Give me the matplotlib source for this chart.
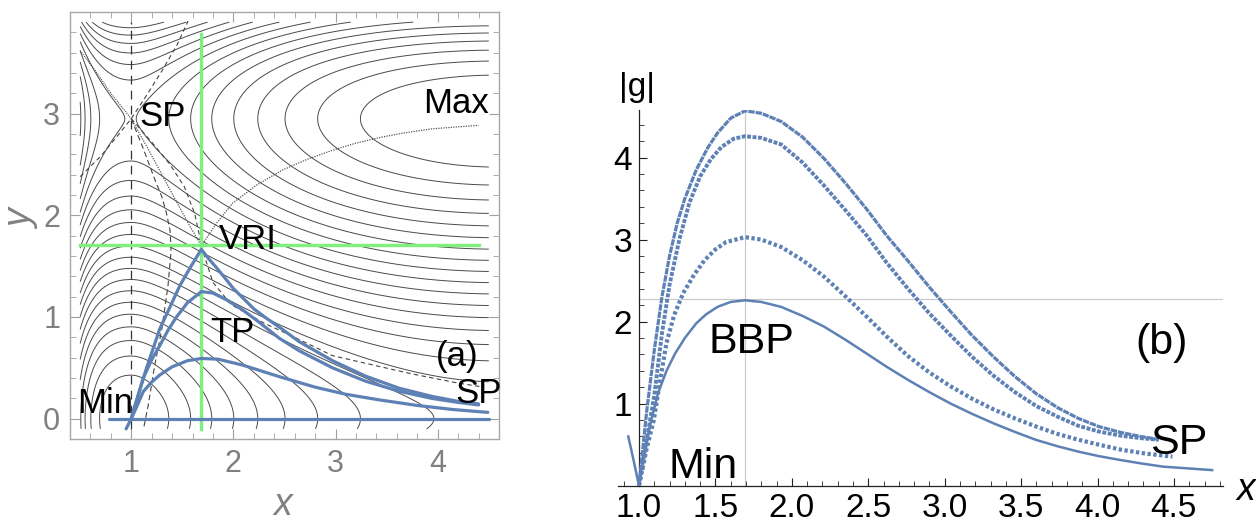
import numpy as np
import matplotlib.pyplot as plt
from matplotlib.ticker import MultipleLocator, FixedLocator, FormatStrFormatter

plt.rcParams['font.family'] = ['Liberation Sans', 'DejaVu Sans']

BLUE = '#5e81b5'
GREEN = '#7ef07e'
GRAY = '#808080'
CONT = '#4a4a4a'

# ---------------- panel (a): curves ----------------
# curve through the VRI point (cusp)
vri_x = [0.95, 1.0, 1.04, 1.15, 1.28, 1.38, 1.475, 1.58, 1.686, 1.76, 1.83, 1.92, 2.0, 2.09,
         2.2, 2.32, 2.45, 2.64, 2.97, 3.29, 3.62, 3.94, 4.2, 4.4]
vri_y = [-0.10, 0.0, 0.14, 0.50, 0.885, 1.10, 1.307, 1.49, 1.665, 1.57, 1.49, 1.38, 1.28, 1.19,
         1.08, 0.99, 0.90, 0.76, 0.57, 0.42, 0.30, 0.22, 0.17, 0.145]
# middle curve (turning point TP at x ~ 1.7)
tp_x = [1.0, 1.05, 1.118, 1.2, 1.28, 1.36, 1.443, 1.55, 1.686, 1.8, 1.93, 2.09, 2.25, 2.45,
        2.64, 2.97, 3.29, 3.62, 3.94, 4.2, 4.4]
tp_y = [0.0, 0.17, 0.40, 0.58, 0.72, 0.87, 1.0, 1.14, 1.25, 1.235, 1.17, 1.07, 0.95, 0.79,
        0.67, 0.50, 0.37, 0.27, 0.20, 0.16, 0.135]
# low curve
low_x = [1.0, 1.05, 1.118, 1.2, 1.28, 1.4, 1.55, 1.686, 1.85, 2.09, 2.45, 2.8, 3.1, 3.42,
         3.8, 4.15, 4.49]
low_y = [0.0, 0.11, 0.267, 0.36, 0.43, 0.51, 0.57, 0.592, 0.585, 0.527, 0.413, 0.31, 0.24,
         0.186, 0.13, 0.09, 0.062]
# valley floor
floor_x = [0.78, 4.5]
floor_y = [0.0, 0.0]

# black auxiliary lines
ridge_x = [1.686, 1.84, 1.994, 2.23, 2.48, 2.72, 2.97, 3.2, 3.455, 3.7, 3.94, 4.2, 4.4]
ridge_y = [1.70, 1.93, 2.12, 2.30, 2.445, 2.55, 2.64, 2.71, 2.77, 2.815, 2.85, 2.87, 2.885]
sp_vri_x = [1.0, 1.15, 1.3, 1.45, 1.57, 1.686]
sp_vri_y = [2.95, 2.68, 2.40, 2.12, 1.90, 1.70]
ge_left_x = [1.0, 1.12, 1.22, 1.30, 1.345, 1.38, 1.39, 1.36, 1.30, 1.23, 1.167, 1.12]
ge_left_y = [2.95, 2.65, 2.38, 2.18, 2.02, 1.85, 1.65, 1.31, 0.885, 0.527, 0.137, -0.1]
ge_right_x = [1.0, 1.2, 1.38, 1.52, 1.62, 1.70, 1.80, 1.98, 2.3, 2.6, 2.97, 3.4, 3.75, 4.2, 4.45]
ge_right_y = [2.95, 2.72, 2.50, 2.28, 2.02, 1.65, 1.34, 1.12, 0.94, 0.80, 0.62, 0.52, 0.44, 0.35, 0.31]
ge_up_x = [0.5, 0.7, 0.88, 1.0, 1.15, 1.3, 1.45, 1.556]
ge_up_y = [2.38, 2.58, 2.80, 2.95, 3.18, 3.42, 3.68, 3.91]
sep_x = [0.5, 0.65, 0.8, 1.0]
sep_y = [3.62, 3.42, 3.2, 2.95]

# green cross at the VRI point
vri_px, vri_py = 1.686, 1.707

# model surface used for the contour background (min, two saddles, max)
x_max_pot = 4.6
y_saddle = 2.95
q_scale = 0.61
levels = 0.145 * np.arange(1, 27) + 0.004

# ---------------- panel (b): |g| along the curves ----------------
g1_x = [1.0, 1.05, 1.1, 1.15, 1.2, 1.25, 1.3, 1.375, 1.45, 1.514, 1.6, 1.694, 1.8, 1.93, 2.07,
        2.21, 2.35, 2.49, 2.62, 2.76, 2.9, 3.04, 3.18, 3.32, 3.46, 3.6, 3.74, 3.875, 4.01, 4.15,
        4.28, 4.40]
g1_y = [0.0, 0.9, 1.65, 2.3, 2.8, 3.2, 3.5, 3.85, 4.12, 4.3, 4.48, 4.57, 4.54, 4.44, 4.25,
        3.99, 3.69, 3.37, 3.05, 2.74, 2.42, 2.12, 1.83, 1.57, 1.33, 1.12, 0.95, 0.82, 0.72, 0.65,
        0.60, 0.565]
g2_x = [1.0, 1.05, 1.1, 1.15, 1.2, 1.264, 1.33, 1.40, 1.47, 1.54, 1.62, 1.694, 1.8, 1.93, 2.07,
        2.21, 2.35, 2.49, 2.62, 2.76, 2.9, 3.04, 3.18, 3.32, 3.46, 3.6, 3.74, 3.875, 4.01, 4.15,
        4.28, 4.40]
g2_y = [0.0, 0.55, 1.1, 1.85, 2.45, 3.0, 3.45, 3.77, 3.98, 4.13, 4.23, 4.26, 4.24, 4.16, 3.94,
        3.66, 3.36, 3.05, 2.72, 2.40, 2.10, 1.83, 1.57, 1.34, 1.14, 0.97, 0.84, 0.73, 0.66, 0.61,
        0.58, 0.56]
g3_x = [1.0, 1.05, 1.097, 1.14, 1.18, 1.23, 1.29, 1.36, 1.43, 1.5, 1.57, 1.694, 1.8, 1.93, 2.07,
        2.21, 2.35, 2.49, 2.62, 2.76, 2.9, 3.04, 3.18, 3.32, 3.46, 3.6, 3.74, 3.875, 4.01, 4.15,
        4.32, 4.49]
g3_y = [0.0, 0.45, 0.80, 1.3, 1.74, 2.08, 2.35, 2.57, 2.75, 2.88, 2.97, 3.03, 3.0, 2.91, 2.75,
        2.55, 2.31, 2.06, 1.82, 1.58, 1.38, 1.21, 1.06, 0.93, 0.82, 0.72, 0.63, 0.56, 0.50, 0.44,
        0.39, 0.355]
g4_x = [0.93, 0.96, 1.0, 1.035, 1.07, 1.125, 1.18, 1.236, 1.30, 1.375, 1.44, 1.514, 1.6, 1.694,
        1.8, 1.93, 2.07, 2.21, 2.35, 2.49, 2.62, 2.76, 2.9, 3.04, 3.18, 3.32, 3.46, 3.6, 3.74,
        3.875, 4.01, 4.15, 4.29, 4.43, 4.6, 4.75]
g4_y = [0.6, 0.35, 0.0, 0.4, 0.72, 1.13, 1.40, 1.61, 1.80, 1.98, 2.09, 2.18, 2.24, 2.26,
        2.24, 2.18, 2.07, 1.94, 1.78, 1.61, 1.45, 1.29, 1.14, 1.0, 0.875, 0.76, 0.655, 0.557, 0.48,
        0.415, 0.36, 0.313, 0.27, 0.232, 0.21, 0.19]
bbp_x = 1.694
bbp_g = 2.27


def p_of_x(x):
    v = -x + (1 + x_max_pot) * np.log(x) + x_max_pot / x - x_max_pot + 1
    return np.where(x < 1, 0.5 * v, v)


def q_of_y(y):
    return q_scale * (y_saddle * y ** 2 / 2 - y ** 3 / 3)


fig = plt.figure(figsize=(12.56, 5.24), dpi=100)

# ---------------- panel (a) ----------------
ax = fig.add_axes([0.0557, 0.1622, 0.3416, 0.815])
gx = np.linspace(0.5, 4.5, 500)
gy = np.linspace(-0.1, 3.9, 500)
GX, GY = np.meshgrid(gx, gy)
V = p_of_x(GX) + q_of_y(GY)
ax.contour(GX, GY, V, levels=levels, colors=CONT, linewidths=0.7)

ax.plot([1, 1], [-0.1, 3.9], color='#333333', lw=0.9, dashes=(7, 5))
ax.plot(ridge_x, ridge_y, color='#555555', lw=0.9, ls=(0, (1, 1)))
ax.plot(sp_vri_x, sp_vri_y, color='#555555', lw=0.9, ls=(0, (1, 1)))
ax.plot(ge_left_x, ge_left_y, color='#444444', lw=0.8, dashes=(5, 3))
ax.plot(ge_right_x, ge_right_y, color='#444444', lw=0.8, dashes=(4, 3))
ax.plot(ge_up_x, ge_up_y, color='#444444', lw=0.8, dashes=(4, 3))
ax.plot(sep_x, sep_y, color='#444444', lw=0.8, ls=(0, (1, 1)))

ax.plot([vri_px, vri_px], [-0.1, 3.78], color=GREEN, lw=2.4, zorder=4)
ax.plot([0.5, 4.4], [vri_py, vri_py], color=GREEN, lw=2.4, zorder=4)

for cx, cy in [(vri_x, vri_y), (tp_x, tp_y), (low_x, low_y), (floor_x, floor_y)]:
    ax.plot(cx, cy, color=BLUE, lw=2.3, zorder=5, solid_capstyle='round')

ax.set_xlim(0.4, 4.6)
ax.set_ylim(-0.2, 4.0)
ax.xaxis.set_major_locator(FixedLocator([1, 2, 3, 4]))
ax.yaxis.set_major_locator(FixedLocator([0, 1, 2, 3]))
ax.xaxis.set_minor_locator(MultipleLocator(0.2))
ax.yaxis.set_minor_locator(MultipleLocator(0.2))
ax.tick_params(which='both', direction='in', top=True, right=True, colors='#a0a0a0',
               labelcolor=GRAY, labelsize=22)
ax.tick_params(which='major', length=7, width=0.8, pad=7)
ax.tick_params(which='minor', length=4, width=0.6)
for s in ax.spines.values():
    s.set_color('#a8a8a8')
    s.set_linewidth(1.0)

lab = dict(fontsize=25, color='black', ha='center', va='center', zorder=6)
ax.text(1.31, 2.97, 'SP', **lab)
ax.text(4.18, 3.10, 'Max', **lab)
ax.text(2.14, 1.76, 'VRI', **lab)
ax.text(1.994, 0.85, 'TP', **lab)
ax.text(4.195, 0.61, '(a)', **lab)
ax.text(4.40, 0.25, 'SP', **lab)
ax.text(0.745, 0.15, 'Min', **lab)
fig.text(0.2253, 0.036, 'x', fontsize=27, style='italic', color=GRAY, ha='center', va='center')
fig.text(0.0175, 0.58, 'y', fontsize=27, style='italic', color=GRAY, ha='center', va='center',
         rotation=90)

# ---------------- panel (b) ----------------
bx = fig.add_axes([0.4917, 0.0731, 0.4819, 0.717])
bx.plot([bbp_x, bbp_x], [0, 4.6], color='#c8c8c8', lw=0.8, zorder=1)
bx.plot([1.0, 4.82], [bbp_g, bbp_g], color='#c8c8c8', lw=0.8, zorder=1)

bx.plot(g1_x, g1_y, color=BLUE, lw=2.3, ls=(0, (2.0, 0.3)), zorder=3)
bx.plot(g2_x, g2_y, color=BLUE, lw=2.8, ls=(0, (1.0, 0.4)), zorder=3)
bx.plot(g3_x, g3_y, color=BLUE, lw=3.0, ls=(0, (0.8, 0.6)), zorder=3)
bx.plot(g4_x, g4_y, color=BLUE, lw=1.8, zorder=3)

bx.set_xlim(0.86, 4.82)
bx.set_ylim(0, 4.58)
bx.spines['left'].set_position(('data', 1.0))
bx.spines['top'].set_visible(False)
bx.spines['right'].set_visible(False)
for s in ('left', 'bottom'):
    bx.spines[s].set_color('#222222')
    bx.spines[s].set_linewidth(0.9)
bx.xaxis.set_major_locator(MultipleLocator(0.5))
bx.xaxis.set_minor_locator(MultipleLocator(0.1))
bx.xaxis.set_major_formatter(FormatStrFormatter('%.1f'))
bx.yaxis.set_major_locator(FixedLocator([1, 2, 3, 4]))
bx.yaxis.set_minor_locator(MultipleLocator(0.2))
bx.tick_params(which='both', direction='in', colors='#222222', labelcolor='black', labelsize=24)
bx.tick_params(which='major', length=6, width=0.8, pad=5)
bx.tick_params(which='minor', length=3.5, width=0.6)

blab = dict(fontsize=31, color='black', ha='center', va='center', zorder=6)
bx.text(1.736, 1.756, 'BBP', **blab)
bx.text(4.417, 1.736, '(b)', **blab)
bx.text(4.53, 0.516, 'SP', **blab)
bx.text(1.417, 0.232, 'Min', **blab)
bx.text(0.986, 4.85, '|g|', fontsize=24, ha='center', va='center', clip_on=False)
bx.text(4.97, -0.05, 'x', fontsize=27, style='italic', ha='center', va='center', clip_on=False)

fig.savefig('out.png', dpi=100)
